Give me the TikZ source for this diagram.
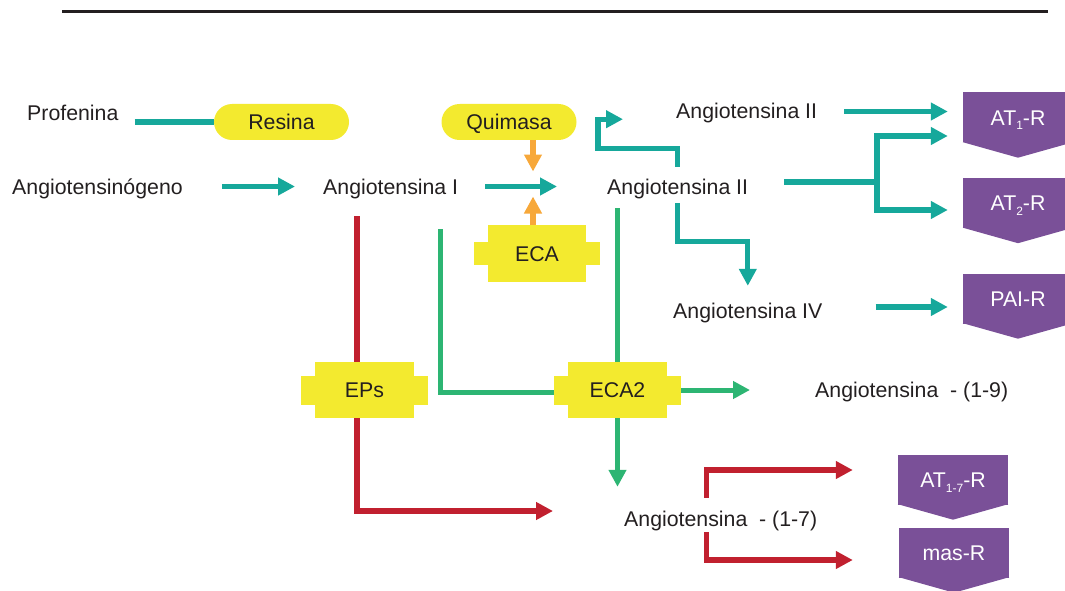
\documentclass[tikz,border=0pt]{standalone}
\usepackage{fontspec}
\setmainfont{Liberation Sans}
\usetikzlibrary{arrows.meta, calc}
\definecolor{txtgray}{HTML}{231F20}
\definecolor{wireteal}{HTML}{16A89B}
\definecolor{wiregreen}{HTML}{2DB573}
\definecolor{wirered}{HTML}{C1202F}
\definecolor{wireorange}{HTML}{F7A83A}
\definecolor{enzyellow}{HTML}{F3EA2F}
\definecolor{recpurple}{HTML}{7A5098}
\newcommand{\recsub}[1]{\raisebox{-5pt}{\fontsize{12}{12}\selectfont #1}}
\tikzstyle{lbl} = [text=txtgray, font=\fontsize{21.3}{25}\selectfont, inner sep=0pt, text height=15pt, text depth=0pt, anchor=base west]
\tikzstyle{pill} = [lbl, anchor=center, fill=enzyellow, rounded corners=18pt, minimum width=135pt, minimum height=36pt]
\tikzstyle{enzyme} = [lbl, anchor=center, fill=enzyellow, minimum width=98pt, minimum height=57pt]
\tikzstyle{receptor} = [lbl, anchor=center, fill=recpurple, text=white, minimum width=110pt, minimum height=50pt]
\tikzstyle{tip} = [-{Triangle[length=17pt,width=17pt]}]
\tikzstyle{tealwire} = [draw=wireteal, line width=5.3pt]
\tikzstyle{greenwire} = [draw=wiregreen, line width=5pt]
\tikzstyle{redwire} = [draw=wirered, line width=5.3pt]
\tikzstyle{orangewire} = [draw=wireorange, line width=5.3pt, tip]

\begin{document}
\begin{tikzpicture}[x=1pt, y=-1pt]
    \clip (0,0) rectangle (1065,591);
    \draw[txtgray, line width=3pt] (62,12) -- (1048,12);

    % substances
    \node[lbl] (prof) at (27,121) {Profenina};
    \node[lbl] (angiogen) at (12,194) {Angiotensinógeno};
    \node[lbl] (ang1) at (323,194) {Angiotensina I};
    \node[lbl] (ang2) at (607,194) {Angiotensina II};
    \node[lbl] (ang2top) at (676,119) {Angiotensina II};
    \node[lbl] (ang4) at (673,318) {Angiotensina IV};
    \node[lbl] (ang19) at (815,397) {Angiotensina\ \ - (1-9)};
    \node[lbl] (ang17) at (624,526) {Angiotensina\ \ - (1-7)};

    % enzymes
    \node[pill] (resina) at (281.5,122) {Resina};
    \node[pill] (quimasa) at (509,122) {Quimasa};
    \node[enzyme] (eca) at (537,253.5) {ECA};
    \node[enzyme, minimum width=99pt, minimum height=56pt] (eca2) at (617.5,390) {ECA2};
    \node[enzyme, minimum width=99pt, minimum height=56pt] (eps) at (364.5,390) {EPs};
    \foreach \e/\h in {eca/11.5, eca2/14.5, eps/14.5} {
      \fill[enzyellow] ($(\e.west)+(-14,-\h)$) rectangle ($(\e.west)+(0.5,\h)$);
      \fill[enzyellow] ($(\e.east)+(-0.5,-\h)$) rectangle ($(\e.east)+(14,\h)$);
    }

    % receptors
    \node[receptor] (at1) at (1018,117.5) {AT\recsub{1}-R};
    \node[receptor] (at2) at (1018,203) {AT\recsub{2}-R};
    \node[receptor] (pai) at (1018,298.5) {PAI-R};
    \node[receptor] (at17) at (953,479.5) {AT\recsub{1-7}-R};
    \node[receptor] (mas) at (954,552.5) {mas-R};
    \foreach \r in {at1, at2, pai, at17, mas}
      \fill[recpurple] ($(\r.south west)+(0,-0.5)$) -- ($(\r.south east)+(0,-0.5)$) -- ($(\r.south)+(0,15)$) -- cycle;

    % teal
    \draw[tealwire, shorten <=16pt] (prof.east |- resina.west) -- (resina.west);
    \draw[tealwire, tip, shorten <=39pt, shorten >=28pt] (angiogen.east) -- (ang1.west);
    \coordinate (join) at (533,186.5);
    \draw[tealwire, tip, shorten <=27pt] (ang1.east) -- ($(join)+(24,0)$);
    \draw[tealwire, tip, shorten <=12pt] (ang2.north) -- ++(0,-30) -| ($(ang2top.south west)+(-78,0)$) -- ($(ang2top.south west)+(-53,0)$);
    \draw[tealwire, tip, shorten <=27pt, shorten >=15pt] (ang2top.east) -- (ang2top.east -| at1.west);
    \coordinate (split) at (877,182);
    \draw[tealwire] ($(ang2.east)+(36,-4.5)$) -- (split);
    \draw[tealwire, tip, shorten >=15pt] (split) |- ($(at1.west)+(0,18.5)$);
    \draw[tealwire, tip, shorten >=15pt] (split) |- ($(at2.west)+(0,7)$);
    \draw[tealwire, tip, shorten <=9pt, shorten >=17pt] (ang2.south) -- ++(0,47) -| (ang4.north);
    \draw[tealwire, tip, shorten <=53pt, shorten >=15pt] ($(ang4.east)+(0,-3.5)$) -- ($(ang4.east -| pai.west)+(0,-3.5)$);

    % orange
    \draw[orangewire] (join |- quimasa.south) -- ($(join)+(0,-15)$);
    \draw[orangewire] (join |- eca.north) -- ($(join)+(0,10)$);

    % green
    \draw[greenwire] ($(ang1.south)+(49.5,35)$) |- ($(eca2.west)+(-14,2)$);
    \draw[greenwire] (eca2.north) -- ++(0,-154);
    \draw[greenwire, tip, shorten >=24pt] (eca2.south) -- (eca2.south |- ang17.north);
    \draw[greenwire, tip, shorten >=65pt] ($(eca2.east)+(14,0)$) -- (eca2.east -| ang19.west);

    % red
    \draw[redwire] ($(eps.north)+(-7.5,0)$) -- ++(0,-146);
    \draw[redwire, tip] ($(eps.south)+(-7.5,0)$) |- ($(ang17.west)+(-71,-7.5)$);
    \draw[redwire, tip, shorten <=13pt, shorten >=45pt] ($(ang17.north)+(-14,0)$) |- ($(at17.west)+(0,-9.5)$);
    \draw[redwire, tip, shorten <=6pt, shorten >=46pt] ($(ang17.south)+(-14,0)$) |- ($(mas.west)+(0,7.5)$);
\end{tikzpicture}
\end{document}
